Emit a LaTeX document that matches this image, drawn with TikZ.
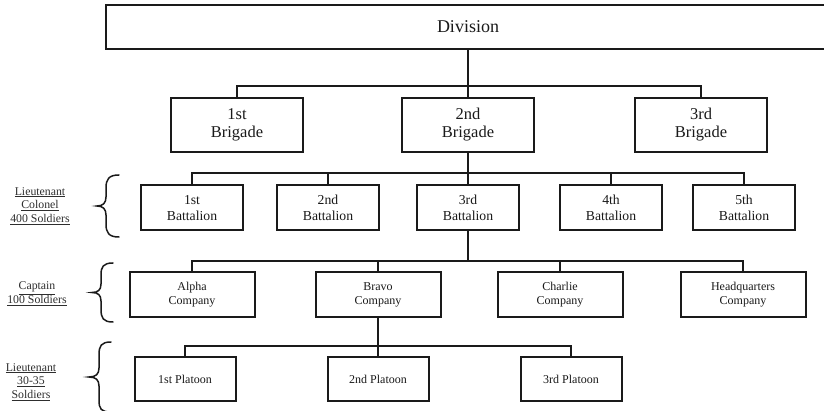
\documentclass[tikz,border=0pt]{standalone}
\usepackage{fontspec}
\setmainfont{Liberation Serif}
\definecolor{linec}{HTML}{1A1A1A}
\definecolor{labc}{HTML}{2E2E2E}
\tikzset{
  box/.style={draw=linec, line width=2pt, inner sep=0pt, align=center, fill=white, text=linec},
  divbox/.style={box, minimum width=724pt, minimum height=44pt, font=\fontsize{18}{21}\selectfont},
  brigbox/.style={box, minimum width=132pt, minimum height=54pt, font=\fontsize{16.5}{18}\selectfont},
  batbox/.style={box, minimum width=102pt, minimum height=45pt, font=\fontsize{13.7}{16.5}\selectfont},
  compbox/.style={box, minimum width=125pt, minimum height=45pt, font=\fontsize{12}{14}\selectfont},
  platbox/.style={box, minimum width=101pt, minimum height=44pt, font=\fontsize{12}{14}\selectfont},
  conn/.style={draw=linec, line width=2pt},
  brc/.style={draw=linec, line width=1.5pt, line cap=round},
  lab/.style={align=center, inner sep=0pt, text=labc, font=\fontsize{11.8}{13.8}\selectfont}
}
\begin{document}
\begin{tikzpicture}[x=1pt,y=-1pt]
\useasboundingbox (0,0) rectangle (824,411);
\clip (0,0) rectangle (824,411);
\fill[white] (0,0) rectangle (824,411);

% Division
\node[divbox] (div) at (468,27) {Division};

% Brigades
\node[brigbox] (b1) at (237,125) {1st\\Brigade};
\node[brigbox] (b2) at (468,125) {2nd\\Brigade};
\node[brigbox] (b3) at (701,125) {3rd\\Brigade};

% Battalions
\node[batbox] (t1) at (192,208) {1st\\Battalion};
\node[batbox] (t2) at (328,208) {2nd\\Battalion};
\node[batbox] (t3) at (468,208) {3rd\\Battalion};
\node[batbox] (t4) at (611,208) {4th\\Battalion};
\node[batbox] (t5) at (744,208) {5th\\Battalion};

% Companies
\node[compbox] (c1) at (192,295) {Alpha\\Company};
\node[compbox] (c2) at (378,295) {Bravo\\Company};
\node[compbox] (c3) at (560,295) {Charlie\\Company};
\node[compbox] (c4) at (743,295) {Headquarters\\Company};

% Platoons
\node[platbox] (p1) at (185,379) {1st Platoon};
\node[platbox] (p2) at (378,379) {2nd Platoon};
\node[platbox] (p3) at (571,379) {3rd Platoon};

% Connectors
\coordinate (j1) at (468,86);
\draw[conn] (div.south -| b2.north) -- (b2.north);
\draw[conn] (b1.north) |- (j1) -| (b3.north);

\coordinate (j2) at (468,173);
\draw[conn] (b2.south -| t3.north) -- (t3.north);
\draw[conn] (t1.north) |- (j2) -| (t5.north);
\draw[conn] (t2.north) -- (t2.north |- j2);
\draw[conn] (t4.north) -- (t4.north |- j2);

\coordinate (j3) at (468,261);
\draw[conn] (t3.south) -- (j3);
\draw[conn] (c1.north) |- (j3) -| (c4.north);
\draw[conn] (c2.north) -- (c2.north |- j3);
\draw[conn] (c3.north) -- (c3.north |- j3);

\coordinate (j4) at (378,346);
\draw[conn] (c2.south -| p2.north) -- (p2.north);
\draw[conn] (p1.north) |- (j4) -| (p3.north);

% Braces
\draw[brc] (119,175) .. controls (109,175) and (106,179) .. (106,188) -- (106,197) .. controls (106,203) and (103,206) .. (97,206) .. controls (103,206) and (106,209) .. (106,215) -- (106,224) .. controls (106,233) and (109,237) .. (119,237);
\draw[brc] (113,263) .. controls (103,263) and (101,267) .. (101,275) -- (101,284) .. controls (101,290) and (98,292.5) .. (92,292.5) .. controls (98,292.5) and (101,295) .. (101,301) -- (101,309) .. controls (101,318) and (103,322) .. (113,322);
\draw[brc] (111,342) .. controls (101,342) and (99,346) .. (99,355) -- (99,368) .. controls (99,374) and (96,377) .. (89,377) .. controls (96,377) and (99,380) .. (99,386) -- (99,400) .. controls (99,409) and (101,412) .. (111,412);

% Labels
\node[lab] (l1) at (40,206) {\underline{Lieutenant}\\\underline{Colonel}\\\underline{400 Soldiers}};
\node[lab] (l2) at (37,294) {\underline{Captain}\\\underline{100 Soldiers}};
\node[lab] (l3) at (31,382) {\underline{Lieutenant}\\\underline{30-35}\\\underline{Soldiers}};
\end{tikzpicture}
\end{document}
